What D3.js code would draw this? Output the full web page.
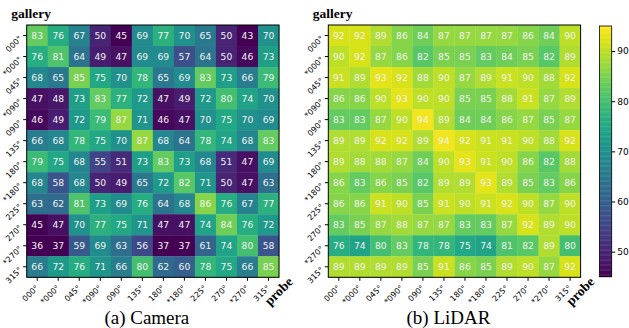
<!DOCTYPE html>
<html>
<head>
<meta charset="utf-8">
<script src="https://cdn.jsdelivr.net/npm/d3@7"></script>
<style>
  body { margin: 0; background: white; }
  svg { display: block; }
</style>
</head>
<body>
<script>
// angle labels, same for gallery rows and probe columns
var angles = ["000°", "*000°", "045°", "*090°", "090°", "135°", "180°", "*180°", "225°", "270°", "*270°", "315°"]

// rows = gallery, cols = probe
var cameraValues = [
  [83, 76, 67, 50, 45, 69, 77, 70, 65, 50, 43, 70],
  [76, 81, 64, 49, 47, 69, 69, 57, 64, 50, 46, 73],
  [68, 65, 85, 75, 70, 78, 65, 69, 83, 73, 66, 79],
  [47, 48, 73, 83, 77, 72, 47, 49, 72, 80, 74, 70],
  [46, 49, 72, 79, 87, 71, 46, 47, 70, 75, 70, 69],
  [66, 68, 78, 75, 70, 87, 68, 64, 78, 74, 68, 83],
  [79, 75, 68, 55, 51, 73, 83, 73, 68, 51, 47, 69],
  [68, 58, 68, 50, 49, 65, 72, 82, 71, 50, 47, 63],
  [63, 62, 81, 73, 69, 76, 64, 68, 86, 76, 67, 77],
  [45, 47, 70, 77, 75, 71, 47, 47, 74, 84, 76, 72],
  [36, 37, 59, 69, 63, 56, 37, 37, 61, 74, 80, 58],
  [66, 72, 76, 71, 66, 80, 62, 60, 78, 75, 66, 85]
]

var lidarValues = [
  [92, 92, 89, 86, 84, 87, 87, 87, 87, 86, 84, 90],
  [90, 92, 87, 86, 82, 85, 85, 83, 84, 85, 82, 89],
  [91, 89, 93, 92, 88, 90, 87, 89, 91, 90, 88, 92],
  [86, 86, 90, 93, 90, 90, 85, 85, 88, 91, 87, 89],
  [83, 83, 87, 90, 94, 89, 84, 84, 86, 87, 85, 87],
  [89, 89, 92, 92, 89, 94, 92, 91, 91, 90, 88, 92],
  [89, 88, 88, 87, 84, 90, 93, 91, 90, 86, 82, 88],
  [86, 83, 86, 85, 82, 89, 89, 93, 89, 85, 83, 86],
  [86, 86, 91, 90, 85, 91, 90, 91, 92, 90, 87, 90],
  [83, 85, 87, 88, 87, 87, 83, 83, 87, 92, 89, 90],
  [76, 74, 80, 83, 78, 78, 75, 74, 81, 82, 89, 80],
  [89, 89, 89, 89, 85, 91, 86, 85, 89, 90, 87, 92]
]

var colorDomain = [45, 95]
var colorTicks = [50, 60, 70, 80, 90]
var captions = ["(a) Camera", "(b) LiDAR"]

var W = 629, H = 328
var svg = d3.select('body').append('svg')
  .attr('width', W)
  .attr('height', H)

var color = d3.scaleSequential(d3.interpolateViridis).domain(colorDomain).clamp(true)

var cellTop = 25, side = 252.3
var sans = 'DejaVu Sans, sans-serif'
var serif = 'Liberation Serif, Times New Roman, serif'

function drawPanel(left, values, caption) {
  var x = d3.scaleBand().domain(angles).range([left, left + side])
  var y = d3.scaleBand().domain(angles).range([cellTop, cellTop + side])

  var g = svg.append('g')

  var cells = []
  values.forEach(function(row, i) {
    row.forEach(function(v, j) {
      cells.push({ r: angles[i], c: angles[j], v: v })
    })
  })

  g.selectAll('rect.cell')
    .data(cells)
    .enter()
      .append('rect')
      .attr('class', 'cell')
      .attr('x', function(d) { return x(d.c) })
      .attr('y', function(d) { return y(d.r) })
      .attr('width', x.bandwidth() + 0.3)
      .attr('height', y.bandwidth() + 0.3)
      .attr('fill', function(d) { return color(d.v) })

  g.selectAll('text.val')
    .data(cells)
    .enter()
      .append('text')
      .attr('class', 'val')
      .attr('x', function(d) { return x(d.c) + x.bandwidth() / 2 })
      .attr('y', function(d) { return y(d.r) + y.bandwidth() / 2 })
      .attr('dy', '0.36em')
      .attr('text-anchor', 'middle')
      .attr('font-family', sans)
      .attr('font-size', 9.2)
      .attr('fill', '#f2f2f2')
      .text(function(d) { return d.v })

  g.append('rect')
    .attr('x', left)
    .attr('y', cellTop)
    .attr('width', side)
    .attr('height', side)
    .attr('fill', 'none')
    .attr('stroke', 'black')
    .attr('stroke-width', 1)

  var yAxis = d3.axisLeft(y).tickSize(3.5).tickPadding(0)
  var yGuide = g.append('g')
    .attr('transform', 'translate(' + left + ',0)')
    .call(yAxis)
  yGuide.select('.domain').remove()
  yGuide.selectAll('text')
    .attr('x', 0).attr('dy', 0)
    .attr('transform', 'translate(-4,3.5) rotate(-45)')
    .attr('text-anchor', 'end')
    .attr('font-family', sans)
    .attr('font-size', 8)
    .attr('fill', 'black')

  var xAxis = d3.axisBottom(x).tickSize(3.5).tickPadding(0)
  var xGuide = g.append('g')
    .attr('transform', 'translate(0,' + (cellTop + side) + ')')
    .call(xAxis)
  xGuide.select('.domain').remove()
  xGuide.selectAll('text')
    .attr('y', 0).attr('dy', 0)
    .attr('transform', 'translate(2,11) rotate(-45)')
    .attr('text-anchor', 'end')
    .attr('font-family', sans)
    .attr('font-size', 8)
    .attr('fill', 'black')

  g.append('text')
    .attr('x', left - 15.5)
    .attr('y', 18)
    .attr('font-family', serif)
    .attr('font-weight', 'bold')
    .attr('font-size', 13.5)
    .text('gallery')

  g.append('text')
    .attr('transform', 'translate(' + (left + side - 9) + ',' + (cellTop + side + 29) + ') rotate(-45)')
    .attr('font-family', serif)
    .attr('font-weight', 'bold')
    .attr('font-size', 13.5)
    .text('probe')

  g.append('text')
    .attr('x', left + side / 2 - 6)
    .attr('y', 323.5)
    .attr('text-anchor', 'middle')
    .attr('font-family', serif)
    .attr('font-size', 19)
    .text(caption)
}

drawPanel(26.7, cameraValues, captions[0])
drawPanel(328.3, lidarValues, captions[1])

// colorbar
var cbX = 599.5, cbW = 12.2, cbTop = 26, cbBottom = 276.7
var cbScale = d3.scaleLinear().domain(colorDomain).range([cbBottom, cbTop])
var steps = d3.range(colorDomain[0], colorDomain[1], 0.25)
svg.append('g').selectAll('rect')
  .data(steps)
  .enter()
    .append('rect')
    .attr('x', cbX)
    .attr('width', cbW)
    .attr('y', function(d) { return cbScale(d + 0.25) })
    .attr('height', function(d) { return cbScale(d) - cbScale(d + 0.25) + 0.4 })
    .attr('fill', function(d) { return color(d + 0.125) })

svg.append('rect')
  .attr('x', cbX).attr('y', cbTop)
  .attr('width', cbW).attr('height', cbBottom - cbTop)
  .attr('fill', 'none').attr('stroke', 'black').attr('stroke-width', 0.8)

var cbAxis = d3.axisRight(cbScale).tickValues(colorTicks).tickSize(3.5).tickPadding(2)
var cbGuide = svg.append('g')
  .attr('transform', 'translate(' + (cbX + cbW) + ',0)')
  .call(cbAxis)
cbGuide.select('.domain').remove()
cbGuide.selectAll('text')
  .attr('font-family', sans)
  .attr('font-size', 9)
  .attr('fill', 'black')
</script>
</body>
</html>
